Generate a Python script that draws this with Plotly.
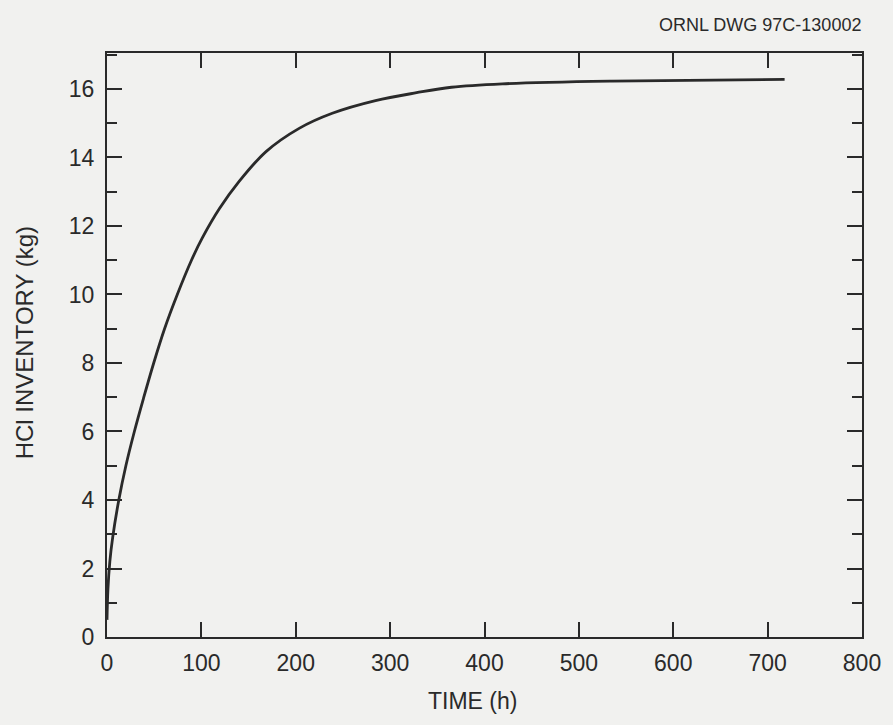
import plotly.graph_objects as go

# Data
time_h = [0, 1, 3, 6, 12.5, 20, 29, 39, 49.5, 61, 74.5, 89.5, 101, 119, 140, 168.5, 203.6, 238.7, 284.5, 328, 365, 419, 535, 718]
hcl_kg = [0.5, 1.4, 2.2, 2.9, 4.0, 5.0, 6.0, 7.0, 8.0, 9.0, 10.0, 11.0, 11.65, 12.5, 13.3, 14.17, 14.85, 15.29, 15.66, 15.89, 16.05, 16.15, 16.23, 16.28]

x_ticks = [0, 100, 200, 300, 400, 500, 600, 700, 800]
y_ticks = [0, 2, 4, 6, 8, 10, 12, 14, 16]

ink = "#2a2a2a"
bg = "#f1f1ef"
font_family = "Liberation Sans, Arial, sans-serif"

W, H = 893, 725
L, R, T, B = 107, 28, 53, 88
pw, ph = W - L - R, H - T - B


def px_x(p):
    return (p - L) / pw


def px_y(p):
    return (H - B - p) / ph


fig = go.Figure()
fig.add_trace(go.Scatter(
    x=time_h, y=hcl_kg, mode="lines",
    line=dict(color=ink, width=2.8, shape="spline", smoothing=1.0),
    showlegend=False, hoverinfo="skip",
))

fig.update_layout(
    width=W, height=H,
    paper_bgcolor=bg, plot_bgcolor=bg,
    margin=dict(l=L, r=R, t=T, b=B),
    font=dict(family=font_family, color=ink, size=23),
    annotations=[
        dict(text="ORNL DWG 97C-130002", xref="paper", yref="paper",
             x=px_x(866), y=px_y(25), xanchor="right", yanchor="middle",
             showarrow=False, font=dict(size=18, color=ink, family=font_family)),
        dict(text="TIME (h)", xref="paper", yref="paper",
             x=px_x(474), y=px_y(701), xanchor="center", yanchor="middle",
             showarrow=False, font=dict(size=23, color=ink, family=font_family)),
        dict(text="HCl INVENTORY (kg)", xref="paper", yref="paper",
             x=px_x(24), y=px_y(343), xanchor="center", yanchor="middle",
             textangle=-90,
             showarrow=False, font=dict(size=24, color=ink, family=font_family)),
    ],
)

fig.update_xaxes(
    range=[0, 800], tickvals=x_ticks, ticktext=[str(v) for v in x_ticks],
    ticks="inside", ticklen=15, tickwidth=2, tickcolor=ink,
    showline=True, linecolor=ink, linewidth=2, mirror="ticks",
    showgrid=False, zeroline=False, ticklabelstandoff=4,
    tickfont=dict(size=23),
)
fig.update_yaxes(
    range=[0, 17.05], tickvals=y_ticks, ticktext=[str(v) for v in y_ticks],
    ticks="inside", ticklen=15, tickwidth=2, tickcolor=ink,
    minor=dict(dtick=1, tick0=0, ticks="inside", ticklen=10, tickwidth=2, tickcolor=ink),
    showline=True, linecolor=ink, linewidth=2, mirror="ticks",
    showgrid=False, zeroline=False, ticklabelstandoff=6,
    tickfont=dict(size=23),
)

fig.write_html(
    "out.html",
    config={"displayModeBar": False},
    post_script="document.body.style.margin='0';document.body.style.background='#f1f1ef';",
)
